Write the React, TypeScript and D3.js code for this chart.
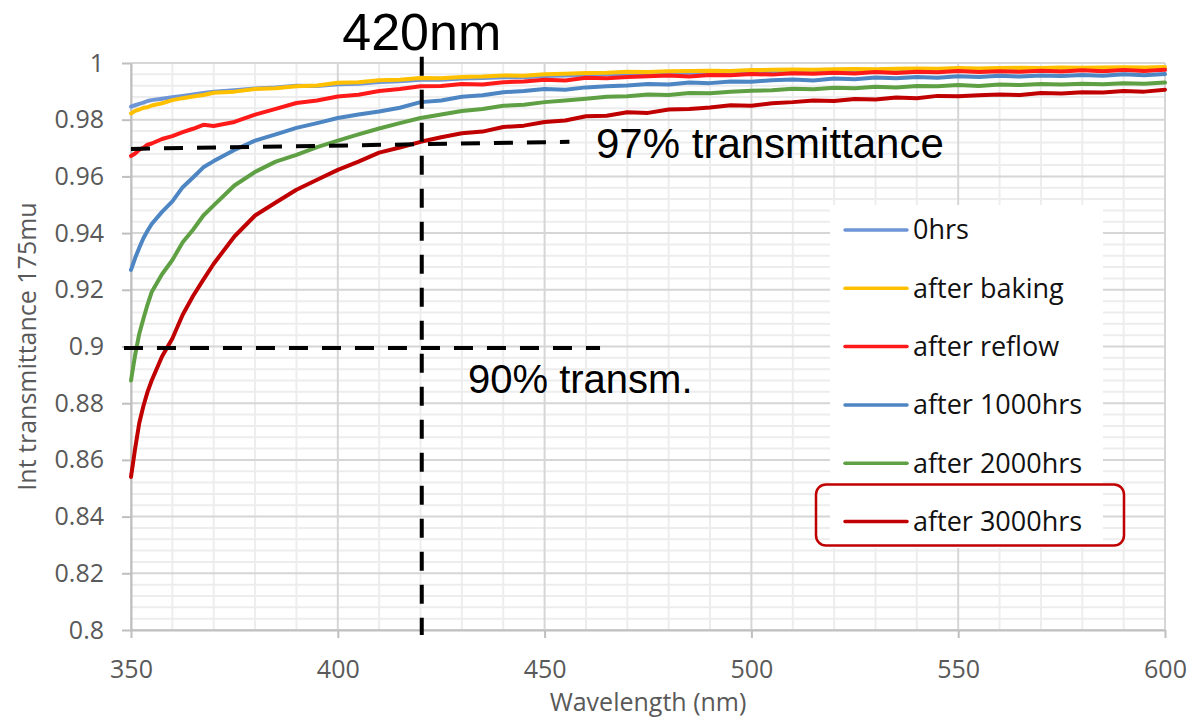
import React from 'react';
import * as d3 from 'd3';

const wavelengths = [350, 351, 352, 353, 354, 355, 357.5, 360, 362.5, 365, 367.5, 370, 375, 380, 385, 390, 395, 400, 405, 410, 415, 420, 425, 430, 435, 440, 445, 450, 455, 460, 465, 470, 475, 480, 485, 490, 495, 500, 505, 510, 515, 520, 525, 530, 535, 540, 545, 550, 555, 560, 565, 570, 575, 580, 585, 590, 595, 600];

const hrs0 = [0.9846, 0.9851, 0.9856, 0.986, 0.9866, 0.9869, 0.9874, 0.9879, 0.9884, 0.9889, 0.9894, 0.9899, 0.9904, 0.991, 0.9914, 0.992, 0.9919, 0.9925, 0.9927, 0.9933, 0.9936, 0.9941, 0.9941, 0.9945, 0.9947, 0.995, 0.995, 0.9954, 0.9956, 0.9958, 0.996, 0.9962, 0.9962, 0.9965, 0.9966, 0.9967, 0.9967, 0.9969, 0.997, 0.9971, 0.9971, 0.9972, 0.9973, 0.9973, 0.9974, 0.9975, 0.9975, 0.9976, 0.9976, 0.9977, 0.9977, 0.9977, 0.9978, 0.9978, 0.9978, 0.9979, 0.9979, 0.998];

const afterBaking = [0.9822, 0.9831, 0.9836, 0.9842, 0.9844, 0.985, 0.9858, 0.9869, 0.9876, 0.9882, 0.9887, 0.9895, 0.9899, 0.9908, 0.9911, 0.9918, 0.9921, 0.993, 0.9932, 0.9939, 0.9941, 0.9947, 0.9946, 0.9951, 0.9952, 0.9956, 0.9955, 0.996, 0.9962, 0.9965, 0.9966, 0.9969, 0.9968, 0.9971, 0.9972, 0.9973, 0.9972, 0.9975, 0.9976, 0.9977, 0.9976, 0.9978, 0.9979, 0.9978, 0.998, 0.9981, 0.998, 0.9982, 0.9981, 0.9982, 0.9983, 0.9982, 0.9984, 0.9983, 0.9984, 0.9985, 0.9984, 0.9986];

const afterReflow = [0.9672, 0.9681, 0.9694, 0.9701, 0.9712, 0.9716, 0.9732, 0.9742, 0.9756, 0.9768, 0.9782, 0.9778, 0.9792, 0.9818, 0.9838, 0.9859, 0.9868, 0.9882, 0.9888, 0.9901, 0.9908, 0.9918, 0.9919, 0.9926, 0.9924, 0.9932, 0.9935, 0.9941, 0.9938, 0.9948, 0.9946, 0.9951, 0.9953, 0.9956, 0.9952, 0.9958, 0.9957, 0.9961, 0.9959, 0.9964, 0.9962, 0.9966, 0.9963, 0.9968, 0.9965, 0.9969, 0.9967, 0.9972, 0.9968, 0.9971, 0.9969, 0.9973, 0.997, 0.9974, 0.9971, 0.9975, 0.9972, 0.9976];

const after1000 = [0.927, 0.9312, 0.9348, 0.9382, 0.9408, 0.9432, 0.9475, 0.9512, 0.9562, 0.9596, 0.9632, 0.9654, 0.9693, 0.9726, 0.9748, 0.9771, 0.9788, 0.9806, 0.9818, 0.9829, 0.9842, 0.9862, 0.9868, 0.9881, 0.9886, 0.9897, 0.9901, 0.9908, 0.9906, 0.9914, 0.9918, 0.9921, 0.9926, 0.9924, 0.9931, 0.9929, 0.9935, 0.9934, 0.9939, 0.9942, 0.9938, 0.9945, 0.9943, 0.9949, 0.9946, 0.9951, 0.9948, 0.9953, 0.9951, 0.9955, 0.9952, 0.9956, 0.9954, 0.9958, 0.9955, 0.996, 0.9957, 0.9961];

const after2000 = [0.888, 0.897, 0.9045, 0.9098, 0.9148, 0.9192, 0.9255, 0.9305, 0.9368, 0.9412, 0.9462, 0.9498, 0.9568, 0.9616, 0.9652, 0.9676, 0.9703, 0.9726, 0.9748, 0.9769, 0.9788, 0.9806, 0.9818, 0.9831, 0.9838, 0.9849, 0.9853, 0.9862, 0.9868, 0.9874, 0.9881, 0.9883, 0.9889, 0.9887, 0.9894, 0.9893, 0.9899, 0.9902, 0.9904, 0.9909, 0.9907, 0.9913, 0.9911, 0.9916, 0.9914, 0.9919, 0.9918, 0.9922, 0.9919, 0.9924, 0.9922, 0.9926, 0.9924, 0.9927, 0.9925, 0.9929, 0.9927, 0.9931];

const after3000 = [0.854, 0.864, 0.873, 0.879, 0.884, 0.888, 0.8965, 0.9028, 0.9112, 0.9178, 0.9236, 0.9292, 0.9388, 0.9462, 0.9508, 0.9553, 0.9588, 0.9623, 0.9652, 0.9684, 0.9702, 0.9722, 0.9738, 0.9752, 0.9758, 0.9774, 0.9779, 0.9792, 0.9797, 0.9812, 0.9814, 0.9826, 0.9824, 0.9836, 0.9838, 0.9843, 0.9851, 0.9849, 0.9858, 0.9862, 0.9868, 0.9866, 0.9873, 0.9871, 0.9878, 0.9876, 0.9884, 0.9883, 0.9886, 0.9889, 0.9887, 0.9894, 0.9892, 0.9897, 0.9896, 0.9901, 0.9899, 0.9906];

const seriesNames = ['0hrs', 'after baking', 'after reflow', 'after 1000hrs', 'after 2000hrs', 'after 3000hrs'];
const seriesColors = ['#6E95D6', '#FFC000', '#FF1A1A', '#4D86C3', '#5EA043', '#C00000'];
const seriesValues = [hrs0, afterBaking, afterReflow, after1000, after2000, after3000];

const xTicks = [350, 400, 450, 500, 550, 600];
const yTicks = [0.8, 0.82, 0.84, 0.86, 0.88, 0.9, 0.92, 0.94, 0.96, 0.98, 1];
const yTickLabels = ['0.8', '0.82', '0.84', '0.86', '0.88', '0.9', '0.92', '0.94', '0.96', '0.98', '1'];

// annotation lines in data units: [x1, y1, x2, y2]
const line97 = [350, 0.9697, 456, 0.9722];
const line90 = [348.3, 0.8995, 463.4, 0.8995];
const line420 = [420.3, 1.0022, 420.3, 0.7982];

const highlightName = 'after 3000hrs';

export default function App() {
  const ref = React.useRef<SVGSVGElement>(null);

  React.useEffect(() => {
    const svg = d3.select(ref.current);
    svg.selectAll('*').remove();

    const x = d3.scaleLinear().domain([350, 600]).range([131, 1165]);
    const y = d3.scaleLinear().domain([0.8, 1]).range([630, 63]);

    const tickFont = '"Open Sans", sans-serif';
    const annFont = '"Liberation Sans", Arial, sans-serif';

    // minor grid
    const minorX = d3.range(350, 601, 10).filter((v) => v % 50 !== 0);
    const minorY = d3.range(0, 51).filter((i) => i % 5 !== 0).map((i) => 0.8 + i * 0.004);
    const grid = svg.append('g');
    grid.selectAll('line.mx').data(minorX).join('line')
      .attr('x1', (d) => x(d)).attr('x2', (d) => x(d)).attr('y1', y(1)).attr('y2', y(0.8))
      .attr('stroke', '#EDEDED').attr('stroke-width', 2);
    grid.selectAll('line.my').data(minorY).join('line')
      .attr('x1', x(350)).attr('x2', x(600)).attr('y1', (d) => y(d)).attr('y2', (d) => y(d))
      .attr('stroke', '#EDEDED').attr('stroke-width', 2);
    // major grid
    grid.selectAll('line.MX').data(xTicks).join('line')
      .attr('x1', (d) => x(d)).attr('x2', (d) => x(d)).attr('y1', y(1)).attr('y2', y(0.8))
      .attr('stroke', '#D6D6D6').attr('stroke-width', 2);
    grid.selectAll('line.MY').data(yTicks).join('line')
      .attr('x1', x(350)).attr('x2', x(600)).attr('y1', (d) => y(d)).attr('y2', (d) => y(d))
      .attr('stroke', '#D6D6D6').attr('stroke-width', 2);

    // axes
    const yAxis = d3.axisLeft(y).tickValues(yTicks)
      .tickFormat((_d, i) => yTickLabels[i]).tickSize(9).tickSizeOuter(0).tickPadding(18);
    const ya = svg.append('g').attr('transform', `translate(${x(350)},0)`).call(yAxis);
    const xAxis = d3.axisBottom(x).tickValues(xTicks)
      .tickFormat((d) => String(d)).tickSize(8).tickSizeOuter(0).tickPadding(22);
    const xa = svg.append('g').attr('transform', `translate(0,${y(0.8)})`).call(xAxis);
    [ya, xa].forEach((a) => {
      a.select('.domain').attr('stroke', '#BFBFBF').attr('stroke-width', 2);
      a.selectAll('.tick line').attr('stroke', '#BFBFBF').attr('stroke-width', 2);
      a.selectAll('.tick text').attr('fill', '#595959').attr('font-size', 25).attr('font-family', tickFont);
    });

    // axis titles
    svg.append('text').attr('x', (x(350) + x(600)) / 2).attr('y', 711)
      .attr('text-anchor', 'middle').attr('font-family', tickFont).attr('font-size', 25)
      .attr('fill', '#595959').text('Wavelength (nm)');
    svg.append('text').attr('transform', `translate(36,${(y(1) + y(0.8)) / 2}) rotate(-90)`)
      .attr('text-anchor', 'middle').attr('font-family', tickFont).attr('font-size', 25)
      .attr('fill', '#595959').text('Int transmittance 175mu');

    // series
    const line = d3.line<number>().x((_d, i) => x(wavelengths[i])).y((d) => y(d));
    seriesValues.forEach((vals, k) => {
      svg.append('path').attr('d', line(vals) || '')
        .attr('fill', 'none').attr('stroke', seriesColors[k]).attr('stroke-width', 4)
        .attr('stroke-linejoin', 'round').attr('stroke-linecap', 'round');
    });

    // legend
    const lg = svg.append('g');
    lg.append('rect').attr('x', 830).attr('y', 205).attr('width', 273).attr('height', 343).attr('fill', '#fff');
    seriesNames.forEach((name, k) => {
      const ly = 230 + k * 58.3;
      lg.append('line').attr('x1', 845).attr('x2', 907).attr('y1', ly).attr('y2', ly)
        .attr('stroke', seriesColors[k]).attr('stroke-width', 3.5).attr('stroke-linecap', 'round');
      lg.append('text').attr('x', 913).attr('y', ly).attr('dy', '0.35em')
        .attr('font-family', tickFont).attr('font-size', 27).attr('fill', '#111').text(name);
      if (name === highlightName) {
        lg.append('rect').attr('x', 816).attr('y', ly - 37).attr('width', 308).attr('height', 61)
          .attr('rx', 10).attr('fill', 'none').attr('stroke', '#C00000').attr('stroke-width', 2.5);
      }
    });

    // annotation dashed lines
    [line97, line90, line420].forEach((l) => {
      svg.append('line').attr('x1', x(l[0])).attr('y1', y(l[1])).attr('x2', x(l[2])).attr('y2', y(l[3]))
        .attr('stroke', '#000').attr('stroke-width', 4).attr('stroke-dasharray', '19 14');
    });

    svg.append('text').attr('x', x(420.3)).attr('y', 50).attr('text-anchor', 'middle')
      .attr('font-family', annFont).attr('font-size', 52).attr('fill', '#000').text('420nm');
    svg.append('text').attr('x', 596).attr('y', 158)
      .attr('font-family', annFont).attr('font-size', 42).attr('fill', '#000').text('97% transmittance');
    svg.append('text').attr('x', 468).attr('y', 393)
      .attr('font-family', annFont).attr('font-size', 40).attr('fill', '#000').text('90% transm.');
  }, []);

  return (
    <svg ref={ref} width={1191} height={719}
      style={{ position: 'absolute', left: 0, top: 0, background: '#fff' }} />
  );
}
